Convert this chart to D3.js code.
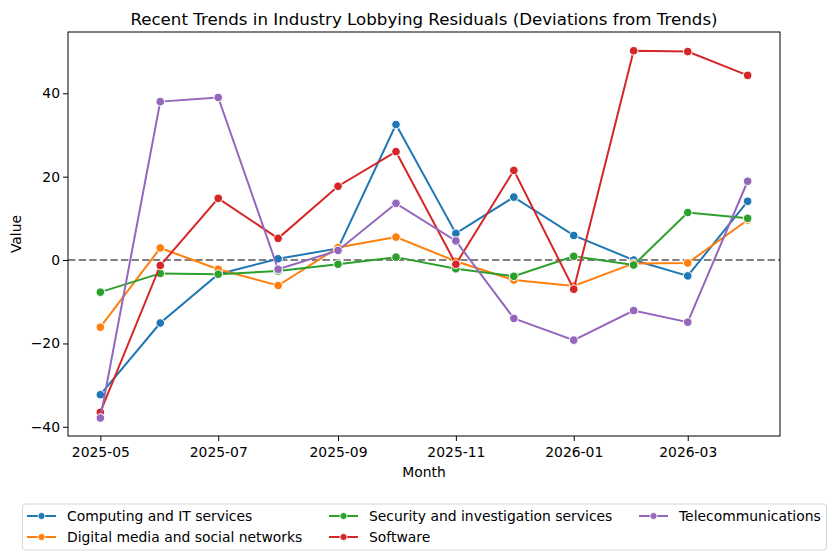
<!DOCTYPE html>
<html>
<head>
<meta charset="utf-8">
<script src="https://cdn.jsdelivr.net/npm/d3@7"></script>
<style>
  body { margin: 0; background: #fff; }
  svg { font-family: "DejaVu Sans", sans-serif; }
</style>
</head>
<body>
<div id="wrapper"></div>
<script>
const months = ["2025-05", "2025-06", "2025-07", "2025-08", "2025-09", "2025-10",
                "2025-11", "2025-12", "2026-01", "2026-02", "2026-03", "2026-04"];
const tickLabels = ["2025-05", "2025-07", "2025-09", "2025-11", "2026-01", "2026-03"];
const yTicks = [-40, -20, 0, 20, 40];

const seriesNames = ["Computing and IT services", "Digital media and social networks",
                     "Security and investigation services", "Software", "Telecommunications"];
const colors = ["#1f77b4", "#ff7f0e", "#2ca02c", "#d62728", "#9467bd"];

const computing = [-32.3, -15.1, -3.4, 0.3, 2.8, 32.5, 6.4, 15.1, 5.9, 0.0, -3.8, 14.1];
const digital   = [-16.1, 2.9, -2.2, -6.1, 3.0, 5.5, -0.3, -4.8, -6.2, -0.8, -0.7, 9.6];
const security  = [-7.7, -3.2, -3.4, -2.6, -1.0, 0.7, -2.1, -3.9, 0.9, -1.2, 11.4, 10.0];
const software  = [-36.5, -1.3, 14.8, 5.2, 17.7, 26.0, -1.0, 21.5, -7.0, 50.2, 50.0, 44.3];
const telecom   = [-37.9, 38.0, 39.0, -2.2, 2.3, 13.6, 4.6, -14.0, -19.2, -12.1, -14.9, 18.9];
const seriesValues = [computing, digital, security, software, telecom];

const width = 836, height = 560;
const margin = { top: 32, right: 56, bottom: 124, left: 68 };
const parse = d3.timeParse("%Y-%m");
const dates = months.map(parse);
const fs = 13.9;

const svg = d3.select("#wrapper").append("svg")
    .attr("width", width).attr("height", height);

const x0 = dates[0], x1 = dates[dates.length - 1];
const pad = (x1 - x0) * 0.05;
const xScale = d3.scaleTime()
    .domain([new Date(+x0 - pad), new Date(+x1 + pad)])
    .range([margin.left, width - margin.right]);
const yScale = d3.scaleLinear()
    .domain([-42.2, 54.7])
    .range([height - margin.bottom, margin.top]);

// zero reference line
svg.append("line")
    .attr("x1", margin.left).attr("x2", width - margin.right)
    .attr("y1", yScale(0)).attr("y2", yScale(0))
    .attr("stroke", "#808080").attr("stroke-width", 2)
    .attr("stroke-dasharray", "7.4,3.2");

const line = d3.line()
    .x((d, i) => xScale(dates[i]))
    .y(d => yScale(d));

seriesValues.forEach((vals, s) => {
    const g = svg.append("g");
    g.append("path")
        .datum(vals)
        .attr("d", line)
        .attr("fill", "none")
        .attr("stroke", colors[s])
        .attr("stroke-width", 2);
    g.selectAll("circle")
        .data(vals)
        .enter()
        .append("circle")
        .attr("cx", (d, i) => xScale(dates[i]))
        .attr("cy", d => yScale(d))
        .attr("r", 4.3)
        .attr("fill", colors[s])
        .attr("stroke", "#fff")
        .attr("stroke-width", 1);
});

// axes
const xAxis = svg.append("g")
    .attr("transform", `translate(0,${height - margin.bottom})`)
    .call(d3.axisBottom(xScale)
        .tickValues(tickLabels.map(parse))
        .tickFormat(d3.timeFormat("%Y-%m"))
        .tickSize(5).tickSizeOuter(0));
const yAxis = svg.append("g")
    .attr("transform", `translate(${margin.left},0)`)
    .call(d3.axisLeft(yScale).tickValues(yTicks).tickSize(5).tickSizeOuter(0)
        .tickFormat(d => d < 0 ? "\u2212" + Math.abs(d) : d));

[xAxis, yAxis].forEach(a => {
    a.select(".domain").remove();
    a.selectAll("text").attr("font-size", fs).attr("fill", "#000")
        .attr("font-family", "DejaVu Sans");
    a.selectAll("line").attr("stroke", "#000").attr("stroke-width", 1);
});
xAxis.selectAll("text").attr("dy", "0.9em");
yAxis.selectAll("text").attr("x", -8);

// frame
svg.append("rect")
    .attr("x", margin.left).attr("y", margin.top)
    .attr("width", width - margin.left - margin.right)
    .attr("height", height - margin.top - margin.bottom)
    .attr("fill", "none").attr("stroke", "#000").attr("stroke-width", 1);

// title and labels
svg.append("text")
    .attr("x", (margin.left + width - margin.right) / 2).attr("y", 25)
    .attr("text-anchor", "middle").attr("font-size", 16.67)
    .text("Recent Trends in Industry Lobbying Residuals (Deviations from Trends)");
svg.append("text")
    .attr("x", (margin.left + width - margin.right) / 2).attr("y", 477)
    .attr("text-anchor", "middle").attr("font-size", fs)
    .text("Month");
svg.append("text")
    .attr("transform", `translate(21,${(margin.top + height - margin.bottom) / 2}) rotate(-90)`)
    .attr("text-anchor", "middle").attr("font-size", fs)
    .text("Value");

// legend
const legend = svg.append("g");
legend.append("rect")
    .attr("x", 22.5).attr("y", 504).attr("width", 804).attr("height", 46)
    .attr("rx", 3).attr("fill", "#fff").attr("stroke", "#d6d6d6");
const colX = [27, 329, 639];
const rowY = [516, 537];
seriesNames.forEach((name, s) => {
    const cx = colX[Math.floor(s / 2)], cy = rowY[s % 2];
    const item = legend.append("g");
    item.append("line")
        .attr("x1", cx).attr("x2", cx + 29).attr("y1", cy).attr("y2", cy)
        .attr("stroke", colors[s]).attr("stroke-width", 2);
    item.append("circle")
        .attr("cx", cx + 14.5).attr("cy", cy).attr("r", 3.5)
        .attr("fill", colors[s]).attr("stroke", "#fff").attr("stroke-width", 0.8);
    item.append("text")
        .attr("x", cx + 40).attr("y", cy).attr("dy", "0.35em")
        .attr("font-size", fs).text(name);
});
</script>
</body>
</html>
